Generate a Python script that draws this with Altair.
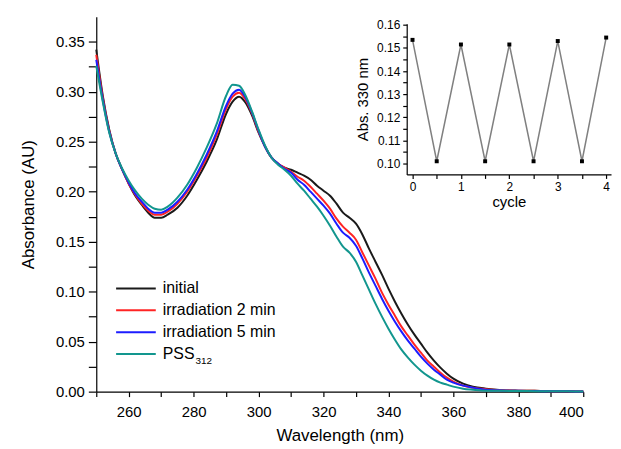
import altair as alt
import pandas as pd

# ---------------- data ----------------
wavelength = [250, 252, 254, 256, 258, 260, 262, 264, 266, 268, 270, 272, 275, 278, 281, 284, 287,
              290, 292, 294, 296, 298, 300, 302, 304, 306, 308, 310, 312, 314, 316, 318, 320, 322,
              324, 326, 328, 330, 332, 334, 336, 338, 340, 342, 344, 346, 348, 350, 352, 354, 356,
              358, 360, 363, 366, 370, 375, 380, 385, 390, 395, 400]

initial = [0.342, 0.296, 0.262, 0.238, 0.222, 0.208, 0.196, 0.187, 0.179, 0.174, 0.174, 0.177, 0.184,
           0.196, 0.212, 0.230, 0.251, 0.278, 0.290, 0.295, 0.289, 0.276, 0.259, 0.245, 0.234, 0.228,
           0.224, 0.222, 0.219, 0.216, 0.212, 0.206, 0.201, 0.196, 0.188, 0.179, 0.174, 0.168, 0.157,
           0.143, 0.130, 0.117, 0.103, 0.090, 0.078, 0.067, 0.057, 0.048, 0.039, 0.031, 0.024, 0.018,
           0.013, 0.008, 0.005, 0.003, 0.0015, 0.001, 0.0008, 0.0005, 0.0003, 0.0002]

irr2 = [0.337, 0.294, 0.261, 0.238, 0.222, 0.208, 0.197, 0.188, 0.181, 0.177, 0.177, 0.180, 0.188,
        0.200, 0.216, 0.234, 0.256, 0.283, 0.295, 0.299, 0.292, 0.278, 0.260, 0.245, 0.234, 0.228,
        0.224, 0.220, 0.215, 0.211, 0.205, 0.198, 0.191, 0.183, 0.173, 0.165, 0.159, 0.152, 0.139,
        0.126, 0.113, 0.099, 0.087, 0.076, 0.065, 0.056, 0.047, 0.039, 0.031, 0.025, 0.019, 0.014,
        0.010, 0.006, 0.004, 0.0025, 0.0015, 0.001, 0.0008, 0.0005, 0.0003, 0.0002]

irr5 = [0.332, 0.292, 0.260, 0.238, 0.222, 0.209, 0.198, 0.190, 0.183, 0.179, 0.179, 0.182, 0.190,
        0.202, 0.218, 0.237, 0.259, 0.286, 0.298, 0.302, 0.294, 0.279, 0.261, 0.245, 0.234, 0.228,
        0.223, 0.219, 0.212, 0.207, 0.200, 0.193, 0.186, 0.178, 0.168, 0.159, 0.154, 0.146, 0.133,
        0.119, 0.106, 0.093, 0.081, 0.070, 0.060, 0.051, 0.043, 0.035, 0.028, 0.022, 0.017, 0.012,
        0.009, 0.006, 0.004, 0.002, 0.0012, 0.0008, 0.0006, 0.0004, 0.0003, 0.0002]

pss = [0.326, 0.290, 0.259, 0.238, 0.223, 0.211, 0.201, 0.193, 0.187, 0.183, 0.182, 0.185, 0.194,
       0.207, 0.224, 0.244, 0.267, 0.296, 0.307, 0.306, 0.296, 0.280, 0.262, 0.246, 0.234, 0.227,
       0.222, 0.216, 0.208, 0.201, 0.193, 0.185, 0.176, 0.166, 0.155, 0.145, 0.139, 0.130, 0.116,
       0.102, 0.088, 0.075, 0.063, 0.052, 0.042, 0.034, 0.027, 0.021, 0.016, 0.012, 0.009, 0.007,
       0.005, 0.003, 0.002, 0.001, 0.0008, 0.0006, 0.0005, 0.0004, 0.0003, 0.0002]

series_keys = ["initial", "irr2", "irr5", "pss"]
legend_labels = ["initial", "irradiation 2 min", "irradiation 5 min", "PSS"]
legend_subscripts = ["", "", "", "312"]
series_colors = ["#1a1a1a", "#ff2424", "#1c1cff", "#12968e"]

cycle = [0, 0.5, 1, 1.5, 2, 2.5, 3, 3.5, 4]
abs330 = [0.1535, 0.101, 0.1515, 0.101, 0.1515, 0.101, 0.153, 0.101, 0.1545]

# ---------------- tables ----------------
rows = []
for key, vals in zip(series_keys, [initial, irr2, irr5, pss]):
    for w, v in zip(wavelength, vals):
        rows.append({"wavelength": w, "absorbance": v, "series": key})
spec = pd.DataFrame(rows)
cyc = pd.DataFrame({"cycle": cycle, "abs": abs330})
leg = pd.DataFrame({"series": series_keys, "label": legend_labels,
                    "sub": legend_subscripts, "row": list(range(len(series_keys)))})

FONT = "Liberation Sans"
color_scale = alt.Scale(domain=series_keys, range=series_colors)

main = alt.Chart(spec).mark_line(strokeWidth=2, interpolate="monotone").encode(
    x=alt.X("wavelength:Q",
            scale=alt.Scale(domain=[250, 400], nice=False, zero=False),
            axis=alt.Axis(title="Wavelength (nm)", values=list(range(250, 401, 10)),
                          labelExpr="datum.value % 20 == 0 ? datum.value : ''",
                          tickSize=5, labelFontSize=15, titleFontSize=17,
                          titleFontWeight="normal", titlePadding=8, labelPadding=8)),
    y=alt.Y("absorbance:Q",
            scale=alt.Scale(domain=[0, 0.375], nice=False),
            axis=alt.Axis(title="Absorbance (AU)", values=[i * 0.025 for i in range(15)],
                          labelExpr="(round(datum.value*1000) % 50 == 0) ? format(datum.value, '.2f') : ''",
                          tickSize=8, labelFontSize=15, titleFontSize=17,
                          titleFontWeight="normal", titlePadding=18, labelPadding=4)),
    color=alt.Color("series:N", scale=color_scale, legend=None),
)

# manual legend (rows placed by their own scale)
ly = alt.Y("row:Q", scale=alt.Scale(domain=[0, 3], range=[274, 340]), axis=None)
leg_lines = alt.Chart(leg).mark_rule(strokeWidth=2).encode(
    x=alt.value(20), x2=alt.value(60), y=ly,
    color=alt.Color("series:N", scale=color_scale, legend=None))
leg_text = alt.Chart(leg).mark_text(align="left", baseline="middle", fontSize=16,
                                    font=FONT, color="black").encode(
    x=alt.value(67), y=ly, text="label:N")
leg_sub = alt.Chart(leg).mark_text(align="left", baseline="middle", fontSize=10,
                                   font=FONT, color="black", dx=33, dy=7).encode(
    x=alt.value(67), y=ly, text="sub:N")
legend_layer = alt.layer(leg_lines, leg_text, leg_sub)

ix = alt.X("cycle:Q",
           scale=alt.Scale(domain=[-0.12, 4.1], nice=False, zero=False, range=[313, 519]),
           axis=alt.Axis(title="cycle", orient="bottom", offset=-219,
                         values=[0, 0.5, 1, 1.5, 2, 2.5, 3, 3.5, 4],
                         labelExpr="datum.value % 1 == 0 ? datum.value : ''",
                         tickSize=4, labelFontSize=12, titleFontSize=15,
                         titleFontWeight="normal", titlePadding=2, labelPadding=3))
iy = alt.Y("abs:Q",
           scale=alt.Scale(domain=[0.0953, 0.1605], nice=False, zero=False, range=[159, 7]),
           axis=alt.Axis(title="Abs. 330 nm", orient="left", offset=-313,
                         values=[0.1 + i * 0.005 for i in range(13)],
                         labelExpr="(round(datum.value*1000) % 10 == 0) ? format(datum.value, '.2f') : ''",
                         tickSize=4, labelFontSize=12, titleFontSize=15,
                         titleFontWeight="normal", titlePadding=6, labelPadding=3))

inset_line = alt.Chart(cyc).mark_line(color="#808080", strokeWidth=1.5).encode(x=ix, y=iy)
inset_pts = alt.Chart(cyc).mark_square(color="black", size=16, opacity=1).encode(x=ix, y=iy)
inset = alt.layer(inset_line, inset_pts)

chart = alt.layer(main, inset, legend_layer).resolve_scale(
    x="independent", y="independent"
).properties(
    width=491, height=378,
    autosize=alt.AutoSizeParams(type="none"),
    padding={"left": 89, "top": 7, "right": 30, "bottom": 55},
).configure_view(stroke=None).configure_axis(
    labelFont=FONT, titleFont=FONT, domainColor="black", tickColor="black",
    labelColor="black", titleColor="black", grid=False, domainWidth=1.2, tickWidth=1.2
)

chart.save("out.html", embed_options={"renderer": "svg", "actions": False})
